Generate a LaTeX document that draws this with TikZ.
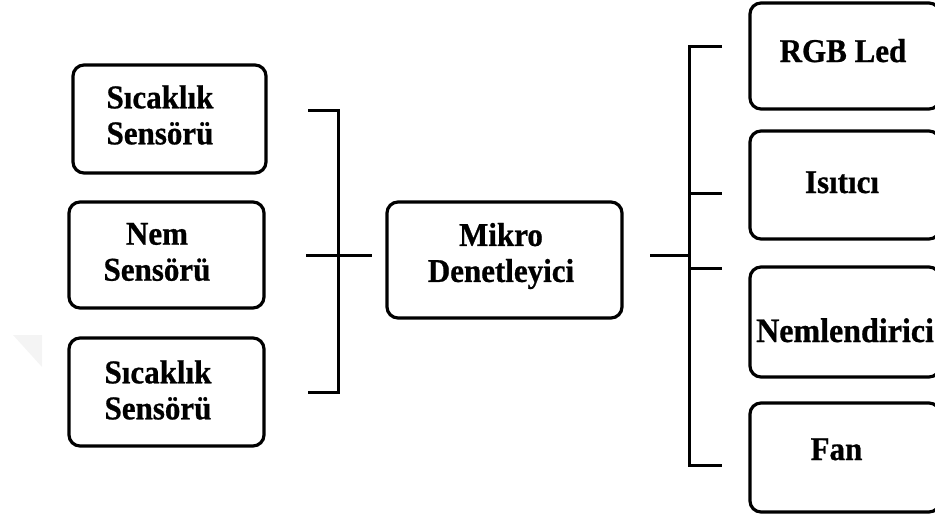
\documentclass[tikz,border=0pt]{standalone}
\usepackage{fontspec}
\setmainfont{Liberation Serif}[BoldFeatures={FakeBold=0.8}]
\newcommand\vst[1]{\scalebox{1}[1.07]{#1}}
\begin{document}
\begin{tikzpicture}[x=1pt,y=-1pt,
  box/.style={draw, rounded corners=11pt, line width=3.2pt, inner sep=0pt},
  lbl/.style={font=\fontsize{31}{36}\selectfont\bfseries, align=center, inner sep=0pt},
  wire/.style={line width=3pt}]
\clip (0,0) rectangle (935,517);
\fill[gray!9] (13,335) -- (42,335) -- (42,367) -- cycle;
% boxes
\node[box, minimum width=193pt, minimum height=108pt] (s1) at (169.5,119) {};
\node[box, minimum width=195pt, minimum height=106pt] (s2) at (166.5,255) {};
\node[box, minimum width=195pt, minimum height=108pt] (s3) at (166.5,392) {};
\node[box, minimum width=235pt, minimum height=116pt] (mc) at (504.5,260) {};
\node[box, minimum width=190pt, minimum height=106pt] (r1) at (845,56) {};
\node[box, minimum width=190pt, minimum height=108pt] (r2) at (845,185) {};
\node[box, minimum width=190pt, minimum height=110pt] (r3) at (845,322) {};
\node[box, minimum width=190pt, minimum height=109pt] (r4) at (845,457.5) {};
% texts
\node[lbl] (s1t) at (160,115) {\vst{Sıcaklık}\\\vst{Sensörü}};
\node[lbl] (s2t) at (157,252) {\vst{Nem}\\\vst{Sensörü}};
\node[lbl] (s3t) at (158,390) {\vst{Sıcaklık}\\\vst{Sensörü}};
\node[lbl] (mct) at (501,256) {\vst{Mikro}\\\vst{Denetleyici}};
\node[lbl, anchor=base] (r1t) at (843,62) {\vst{RGB Led}};
\node[lbl, anchor=base] (r2t) at (842,193) {\vst{Isıtıcı}};
\node[lbl, font=\fontsize{32}{36}\selectfont\bfseries, anchor=base west] (r3t) at (756,342) {\vst{Nemlendirici}};
\node[lbl, anchor=base] (r4t) at (836.5,460) {\vst{Fan}};
% left bracket
\coordinate (a1) at (308,110);
\coordinate (a2) at (338,110);
\coordinate (a3) at (338,392);
\coordinate (a4) at (308,392);
\coordinate (m1) at (306,255);
\coordinate (m2) at (372,255);
\draw[wire] (a1) -- (a2) -- (a3) -- (a4);
\draw[wire] (m1) -- (m2);
% right bracket
\coordinate (o1) at (650,255);
\coordinate (o2) at (689,255);
\coordinate (b1) at (722,46);
\coordinate (b2) at (689,46);
\coordinate (b3) at (689,465);
\coordinate (b4) at (722,465);
\coordinate (c1) at (689,193);
\coordinate (c2) at (722,193);
\coordinate (d1) at (689,268);
\coordinate (d2) at (722,268);
\draw[wire] (o1) -- (o2);
\draw[wire] (b1) -- (b2) -- (b3) -- (b4);
\draw[wire] (c1) -- (c2);
\draw[wire] (d1) -- (d2);
\end{tikzpicture}
\end{document}
